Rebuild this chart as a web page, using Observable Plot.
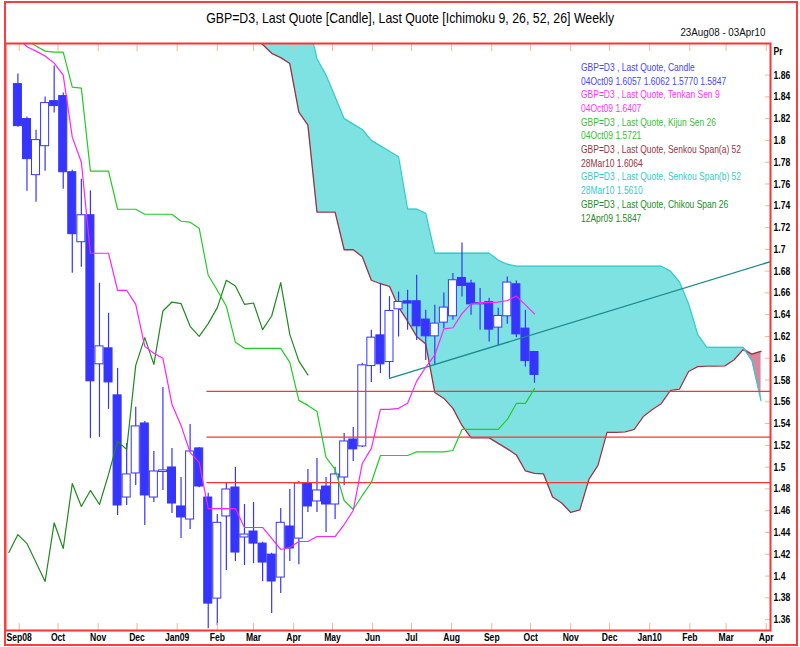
<!DOCTYPE html>
<html><head><meta charset="utf-8">
<script src="https://cdn.jsdelivr.net/npm/d3@7"></script>
<script src="https://cdn.jsdelivr.net/npm/@observablehq/plot@0.6"></script>
<style>
body{margin:0;background:#fff;}
#wrap{position:relative;width:800px;height:647px;overflow:hidden;font-family:"Liberation Sans",Arial,sans-serif;}
#chart{position:absolute;left:0;top:0;}
#border{position:absolute;left:4px;top:1px;width:790px;height:641px;border:2px solid #ff3b3b;pointer-events:none;}
.lbl{position:absolute;white-space:nowrap;line-height:1;}
</style></head><body>
<div id="wrap"><div id="chart"></div><div id="border"></div></div>
<script>
// weekly candles, first week 2008-08-31
const candleStart = "2008-08-31";
const open = [1.8517,1.8196,1.7681,1.7947,1.8361,1.8407,1.7708,1.7065,1.7313,1.5944,1.6091,1.5659,1.4721,1.4942,1.5401,1.4721,1.4955,1.4997,1.4639,1.4519,1.5172,1.4721,1.3793,1.4547,1.4813,1.4354,1.4409,1.4298,1.4197,1.3986,1.4455,1.4344,1.4850,1.4685,1.4822,1.4657,1.4905,1.5254,1.5190,1.5928,1.6210,1.5965,1.6449,1.6523,1.6523,1.6355,1.6201,1.6327,1.6385,1.6737,1.6686,1.6495,1.6516,1.6281,1.6385,1.6679,1.6272,1.6057];
const high = [1.8610,1.8214,1.8094,1.8398,1.8683,1.8435,1.7726,1.7644,1.7537,1.6688,1.6413,1.5907,1.5218,1.5549,1.5420,1.5144,1.5732,1.5172,1.4905,1.5392,1.5181,1.4760,1.4565,1.4850,1.4997,1.4657,1.4675,1.4310,1.4210,1.4620,1.4795,1.4869,1.4979,1.5080,1.4905,1.5000,1.5310,1.5365,1.5953,1.6256,1.6688,1.6566,1.6608,1.6624,1.6762,1.6440,1.6486,1.6600,1.6777,1.7059,1.6716,1.6640,1.6550,1.6458,1.6746,1.6709,1.6440,1.6062];
const low = [1.8120,1.7534,1.7433,1.7718,1.8251,1.7552,1.6780,1.6835,1.5264,1.5273,1.5530,1.4556,1.4648,1.4832,1.4464,1.4675,1.4786,1.4574,1.4345,1.4427,1.4810,1.3517,1.3545,1.4050,1.4133,1.4096,1.4114,1.3950,1.3655,1.3839,1.4134,1.4104,1.4583,1.4583,1.4400,1.4519,1.4830,1.5052,1.5180,1.5778,1.5860,1.5815,1.6195,1.6256,1.6164,1.5980,1.5935,1.6272,1.6348,1.6563,1.6394,1.6256,1.6149,1.6118,1.6311,1.6189,1.5919,1.5770];
const close = [1.8131,1.7828,1.8003,1.8343,1.8315,1.7708,1.7139,1.7313,1.5788,1.6109,1.5778,1.4648,1.4933,1.5374,1.4740,1.4960,1.4970,1.4666,1.4538,1.5144,1.4822,1.3747,1.4489,1.4795,1.4216,1.4381,1.4298,1.4124,1.3950,1.4489,1.4253,1.4850,1.4639,1.4786,1.4657,1.4933,1.5236,1.5163,1.5935,1.6189,1.5944,1.6434,1.6516,1.6502,1.6293,1.6201,1.6318,1.6465,1.6716,1.6664,1.6495,1.6507,1.6263,1.6388,1.6695,1.6219,1.5974,1.5847];
// Ichimoku lines (same weeks as candles)
const tenkan = [1.894,1.886,1.882,1.8775,1.871,1.860,1.803,1.780,1.6964,1.6964,1.6964,1.6624,1.6624,1.6495,1.6109,1.6045,1.5999,1.5576,1.5383,1.5135,1.5043,1.4620,1.4620,1.4620,1.4620,1.4446,1.4446,1.4446,1.4345,1.4244,1.4262,1.4317,1.4317,1.4363,1.4363,1.4363,1.4473,1.4602,1.5034,1.5172,1.5530,1.5530,1.5540,1.5586,1.5790,1.5917,1.6030,1.6270,1.6280,1.6410,1.6500,1.6510,1.6510,1.6515,1.6530,1.6570,1.6490,1.6407];
const kijun = [1.905,1.892,1.8867,1.882,1.8811,1.8811,1.849,1.848,1.7718,1.7718,1.7718,1.7368,1.7368,1.7368,1.7322,1.7322,1.7322,1.7322,1.7258,1.7249,1.7194,1.6762,1.6624,1.6477,1.6146,1.6091,1.6091,1.6091,1.6091,1.6091,1.5962,1.5613,1.5567,1.5512,1.5089,1.4979,1.4694,1.4611,1.4740,1.4859,1.5107,1.5107,1.5107,1.5107,1.5140,1.5140,1.5140,1.5140,1.5153,1.5346,1.5346,1.5346,1.5346,1.5346,1.5438,1.5585,1.5585,1.5721];
// Chikou span, first week 2008-08-24
const chikouStart = "2008-08-24";
const chikou = [1.4216,1.4381,1.4298,1.4124,1.3950,1.4489,1.4253,1.4850,1.4639,1.4786,1.4657,1.4933,1.5236,1.5163,1.5935,1.6189,1.5944,1.6434,1.6516,1.6502,1.6293,1.6201,1.6318,1.6465,1.6716,1.6664,1.6495,1.6507,1.6263,1.6388,1.6695,1.6219,1.5974,1.5847];
// Senkou spans, first week 2009-02-22, last 2010-03-28
const spanStart = "2009-02-22";
const spanA = [1.91,1.898,1.888,1.880,1.876,1.8706,1.826,1.814,1.7341,1.7341,1.7341,1.6996,1.6996,1.6932,1.6716,1.6684,1.6660,1.647,1.634,1.620,1.613,1.5686,1.5631,1.554,1.5383,1.5269,1.5269,1.5269,1.5218,1.5168,1.5112,1.4965,1.4942,1.4938,1.4726,1.4671,1.4584,1.4607,1.4887,1.5016,1.5319,1.5319,1.5324,1.5347,1.5465,1.5529,1.5585,1.5705,1.5717,1.5878,1.5923,1.5928,1.5928,1.5930,1.5984,1.6078,1.6038,1.6064];
const spanB = [1.95,1.95,1.95,1.95,1.95,1.95,1.95,1.91,1.875,1.86,1.84,1.82,1.815,1.81,1.80,1.795,1.79,1.785,1.737,1.737,1.733,1.6964,1.6964,1.6964,1.6964,1.6964,1.6964,1.6964,1.690,1.6863,1.6845,1.6845,1.6845,1.6845,1.6845,1.6845,1.6845,1.6845,1.6845,1.6845,1.6845,1.6845,1.6845,1.6845,1.6845,1.6845,1.6845,1.680,1.670,1.650,1.622,1.610,1.610,1.610,1.610,1.610,1.5976,1.5610];
// drawn levels
const levels = [1.5696, 1.5276, 1.4857];
const levelStart = "2009-01-24", levelEnd = "2010-04-10";
const trendDates = ["2009-06-14", "2010-04-04"];
const trendValues = [1.5815, 1.6886];
const yTicks = d3.range(1.36, 1.8601, 0.02).map(v => +v.toFixed(2));
const legendLines = [
  ["GBP=D3 , Last Quote, Candle", "#4646ff"],
  ["04Oct09 1.6057 1.6062 1.5770 1.5847", "#4646ff"],
  ["GBP=D3 , Last Quote, Tenkan Sen 9", "#ff33ff"],
  ["04Oct09 1.6407", "#ff33ff"],
  ["GBP=D3 , Last Quote, Kijun Sen 26", "#33c233"],
  ["04Oct09 1.5721", "#33c233"],
  ["GBP=D3 , Last Quote, Senkou Span(a) 52", "#993344"],
  ["28Mar10 1.6064", "#993344"],
  ["GBP=D3 , Last Quote, Senkou Span(b) 52", "#33cccc"],
  ["28Mar10 1.5610", "#33cccc"],
  ["GBP=D3 , Last Quote, Chikou Span 26", "#228b22"],
  ["12Apr09 1.5847", "#228b22"]
];
const titleText = "GBP=D3, Last Quote [Candle], Last Quote [Ichimoku 9, 26, 52, 26] Weekly";
const rangeText = "23Aug08 - 03Apr10";

const wk = (s, i) => d3.utcDay.offset(new Date(s), 7 * i);
const candles = open.map((o, i) => ({date: wk(candleStart, i), open: o, high: high[i], low: low[i], close: close[i]}));
const lines = tenkan.map((t, i) => ({date: wk(candleStart, i), tenkan: t, kijun: kijun[i]}));
const chik = chikou.map((v, i) => ({date: wk(chikouStart, i), v}));
const spans = spanA.map((a, i) => ({date: wk(spanStart, i), a, b: spanB[i]}));
const trend = trendDates.map((d, i) => ({date: new Date(d), v: trendValues[i]}));
const half = 3.1 * 864e5;
const BLUE = "#3535ff";
const TICK = "#f6b58a";
const months = d3.utcMonth.range(new Date("2008-09-01"), new Date("2010-04-02"));
const monthFmt = d => (d.getUTCMonth() === 0 || +d === +months[0]) ? d3.utcFormat("%b%y")(d) : d3.utcFormat("%b")(d);

const chart = Plot.plot({
  width: 800, height: 647,
  marginTop: 43, marginBottom: 17, marginLeft: 5, marginRight: 30,
  x: {type: "utc", domain: [new Date("2008-08-21T10:00Z"), new Date("2010-04-04T07:00Z")]},
  y: {domain: [1.35, 1.889]},
  style: {fontFamily: '"Liberation Sans",Arial,sans-serif', fontSize: "11px", background: "transparent", color: "#000"},
  marks: [
    Plot.areaY(spans, {x: "date", y1: "a", y2: d => Math.max(d.a, d.b), fill: "#7fe2e2", clip: true}),
    Plot.areaY(spans, {x: "date", y1: "b", y2: d => Math.max(d.a, d.b), fill: "#d9869f", clip: true}),
    Plot.line(spans, {x: "date", y: "a", stroke: "#993344", strokeWidth: 1.3, clip: true}),
    Plot.line(spans, {x: "date", y: "b", stroke: "#33cccc", strokeWidth: 1.3, clip: true}),
    Plot.ruleX(candles, {x: "date", y1: "low", y2: "high", stroke: BLUE, strokeWidth: 1.2, clip: true}),
    Plot.rect(candles, {x1: d => new Date(+d.date - half), x2: d => new Date(+d.date + half), y1: "open", y2: "close",
      fill: d => d.close < d.open ? BLUE : "#fff", stroke: BLUE, strokeWidth: 1, clip: true}),
    Plot.ruleY(levels, {y: d => d, x1: new Date(levelStart), x2: new Date(levelEnd), stroke: "#ff3333", strokeWidth: 1.2, clip: true}),
    Plot.line(trend, {x: "date", y: "v", stroke: "#1b8a8a", strokeWidth: 1.3, clip: true}),
    Plot.line(chik, {x: "date", y: "v", stroke: "#1e8a1e", strokeWidth: 1.2, clip: true}),
    Plot.line(lines, {x: "date", y: "kijun", stroke: "#22cc22", strokeWidth: 1.2, clip: true}),
    Plot.line(lines, {x: "date", y: "tenkan", stroke: "#ff22ff", strokeWidth: 1.2, clip: true}),
    Plot.axisX({anchor: "top", ticks: months, tickSize: 7, dy: 7, tickFormat: () => "", stroke: TICK, label: null}),
    Plot.axisX({anchor: "bottom", ticks: months, tickSize: 7, dy: -7, tickFormat: () => "", stroke: TICK, label: null}),
    Plot.axisX({anchor: "bottom", ticks: months, tickSize: 0, tickPadding: 3, tickFormat: monthFmt, fontSize: 11, fontWeight: "bold", label: null}),
    Plot.axisY({anchor: "right", ticks: yTicks, tickSize: 6, dx: -6, tickFormat: () => "", stroke: TICK, label: null}),
    Plot.axisY({anchor: "right", ticks: yTicks, tickSize: 0, tickPadding: 3, tickFormat: d => String(+d.toFixed(2)), fontSize: 11, fontWeight: "bold", label: null}),
    Plot.text(["Pr"], {frameAnchor: "top-right", dx: 3, dy: 4, textAnchor: "start", fontSize: 11, fontWeight: "bold"}),
    Plot.frame({stroke: "#ff3333", strokeWidth: 2})
  ]
});
document.getElementById("chart").appendChild(chart);
// narrow the axis labels (the reference uses a condensed face)
chart.querySelectorAll("text").forEach(t => {
  const L = t.getComputedTextLength();
  if (L > 0) { t.setAttribute("textLength", (L * 0.78).toFixed(1)); t.setAttribute("lengthAdjust", "spacingAndGlyphs"); }
});

// HTML labels (narrow rendering via horizontal scale)
const wrap = document.getElementById("wrap");
function label(text, {x, y, size, color, width, anchor = "start"}) {
  const s = document.createElement("span");
  s.className = "lbl";
  s.textContent = text;
  s.style.fontSize = size + "px";
  s.style.color = color;
  wrap.appendChild(s);
  const w = s.getBoundingClientRect().width;
  const k = width / w;
  const left = anchor === "middle" ? x - w / 2 : anchor === "end" ? x - w : x;
  s.style.left = left + "px";
  s.style.top = (y - size / 2) + "px";
  s.style.transformOrigin = anchor === "middle" ? "50% 50%" : anchor === "end" ? "100% 50%" : "0 50%";
  s.style.transform = `scaleX(${k})`;
  return k;
}
label(titleText, {x: 410, y: 17, size: 15, color: "#000", width: 408, anchor: "middle"});
label(rangeText, {x: 765, y: 32, size: 11, color: "#111", width: 85, anchor: "end"});
// legend: common horizontal scale from the longest line
const probe = document.createElement("span");
probe.className = "lbl"; probe.style.fontSize = "11px"; probe.textContent = legendLines[6][0];
wrap.appendChild(probe);
const legendK = 160 / probe.getBoundingClientRect().width;
probe.remove();
legendLines.forEach(([t, c], k) => {
  const s = document.createElement("span");
  s.className = "lbl";
  s.textContent = t;
  s.style.fontSize = "11px";
  s.style.color = c;
  s.style.left = "581px";
  s.style.top = (67.3 + k * 13.7 - 5.5) + "px";
  s.style.transformOrigin = "0 50%";
  s.style.transform = `scaleX(${legendK})`;
  wrap.appendChild(s);
});
</script>
</body></html>
